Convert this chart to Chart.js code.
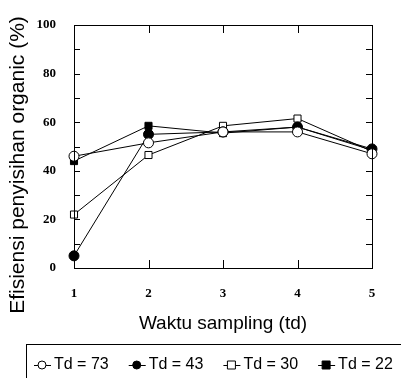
<!DOCTYPE html>
<html>
<head>
<meta charset="utf-8">
<script src="https://cdn.jsdelivr.net/npm/chart.js@4"></script>
<style>
  html, body { margin: 0; padding: 0; background: #fff; }
  #wrap { width: 401px; height: 378px; }
</style>
</head>
<body>
<div id="wrap"><canvas id="myChart"></canvas></div>
<script>
// data
const samplingTimes = [1, 2, 3, 4, 5]
const td73 = [46, 51.5, 56, 56, 47]
const td43 = [5, 55, 56, 58, 49]
const td30 = [22, 46.5, 58.5, 61.5, 48]
const td22 = [44, 58.5, 55.5, 58, 48.5]
const seriesLabels = ['Td = 73', 'Td = 43', 'Td = 30', 'Td = 22']
const yTicks = [0, 20, 40, 60, 80, 100]
const yTitle = 'Efisiensi penyisihan organic (%)'
const xTitle = 'Waktu sampling (td)'

const toPoints = (arr) => arr.map((v, i) => ({ x: samplingTimes[i], y: v }))

function makeSet(label, values, style, filled) {
    return {
        label: label,
        data: toPoints(values),
        borderColor: '#000',
        borderWidth: 1,
        pointStyle: style,
        pointRadius: 5,
        pointBackgroundColor: filled ? '#000' : '#fff',
        pointBorderColor: '#000',
        pointBorderWidth: 1,
        fill: false,
        tension: 0,
        clip: false
    }
}

const dataChart = {
    datasets: [
        makeSet(seriesLabels[0], td73, 'circle', false),
        makeSet(seriesLabels[1], td43, 'circle', true),
        makeSet(seriesLabels[2], td30, 'rect', false),
        makeSet(seriesLabels[3], td22, 'rect', true)
    ]
}

// frame + inward ticks + long y title (runs below the axis in the original)
const framePlugin = {
    id: 'frame',
    afterDraw(chart) {
        const ctx = chart.ctx
        const a = chart.chartArea
        const xs = chart.scales.x, ys = chart.scales.y
        ctx.save()
        ctx.strokeStyle = '#000'
        ctx.lineWidth = 1
        ctx.strokeRect(a.left + 0.5, a.top + 0.5, a.right - a.left, a.bottom - a.top)
        ctx.beginPath()
        for (let v = 10; v < 100; v += 10) {
            const y = Math.round(ys.getPixelForValue(v)) + 0.5
            ctx.moveTo(a.left, y); ctx.lineTo(a.left + 6, y)
            ctx.moveTo(a.right, y); ctx.lineTo(a.right - 6, y)
        }
        for (let v = 2; v <= 4; v++) {
            const x = Math.round(xs.getPixelForValue(v)) + 0.5
            ctx.moveTo(x, a.bottom); ctx.lineTo(x, a.bottom - 8)
            ctx.moveTo(x, a.top); ctx.lineTo(x, a.top + 8)
        }
        ctx.stroke()

        ctx.translate(18, 165)
        ctx.rotate(-Math.PI / 2)
        ctx.font = '21px "Liberation Sans", Arial, sans-serif'
        ctx.fillStyle = '#000'
        ctx.textAlign = 'center'
        ctx.textBaseline = 'middle'
        ctx.fillText(yTitle, 0, 0)
        ctx.restore()
    }
}

// boxed legend at the bottom, line + marker style
const legendPlugin = {
    id: 'boxLegend',
    afterDraw(chart) {
        const ctx = chart.ctx
        const top = 344
        const cy = 365
        ctx.save()
        ctx.strokeStyle = '#000'
        ctx.lineWidth = 1
        ctx.strokeRect(26.5, top + 0.5, 400, 60)
        ctx.font = '16px "Liberation Sans", Arial, sans-serif'
        ctx.textBaseline = 'middle'
        ctx.fillStyle = '#000'
        let x = 34
        chart.data.datasets.forEach((ds) => {
            ctx.beginPath()
            ctx.moveTo(x, cy + 0.5); ctx.lineTo(x + 17, cy + 0.5)
            ctx.stroke()
            const mx = x + 8
            ctx.beginPath()
            if (ds.pointStyle === 'circle') {
                ctx.arc(mx, cy, 4, 0, Math.PI * 2)
            } else {
                ctx.rect(mx - 4, cy - 4, 8, 8)
            }
            ctx.fillStyle = ds.pointBackgroundColor
            ctx.fill()
            ctx.stroke()
            ctx.fillStyle = '#000'
            ctx.fillText(ds.label, x + 20, cy)
            x += 20 + ctx.measureText(ds.label).width + 20
        })
        ctx.restore()
    }
}

const config = {
    type: 'line',
    data: dataChart,
    plugins: [framePlugin, legendPlugin],
    options: {
        responsive: true,
        maintainAspectRatio: false,
        animation: false,
        layout: { padding: { top: 25, right: 29, bottom: 43, left: 0 } },
        plugins: {
            legend: { display: false },
            tooltip: { enabled: false }
        },
        scales: {
            x: {
                type: 'linear',
                min: 1,
                max: 5,
                grid: { display: false },
                border: { display: false },
                afterFit(scale) { scale.height = 67 },
                ticks: {
                    stepSize: 1,
                    padding: 10,
                    color: '#000',
                    font: { family: '"Liberation Serif", serif', weight: 'bold', size: 13 }
                },
                title: {
                    display: true,
                    text: xTitle,
                    color: '#000',
                    font: { family: '"Liberation Sans", Arial, sans-serif', size: 19 },
                    padding: { top: 0, bottom: 0 }
                }
            },
            y: {
                min: 0,
                max: 100,
                grid: { display: false },
                border: { display: false },
                afterFit(scale) { scale.width = 74 },
                afterBuildTicks(scale) {
                    scale.ticks = yTicks.map(v => ({ value: v }))
                },
                ticks: {
                    padding: 10,
                    color: '#000',
                    font: { family: '"Liberation Serif", serif', weight: 'bold', size: 13 }
                }
            }
        }
    }
}

const myChart = new Chart(document.getElementById('myChart'), config)
</script>
</body>
</html>
